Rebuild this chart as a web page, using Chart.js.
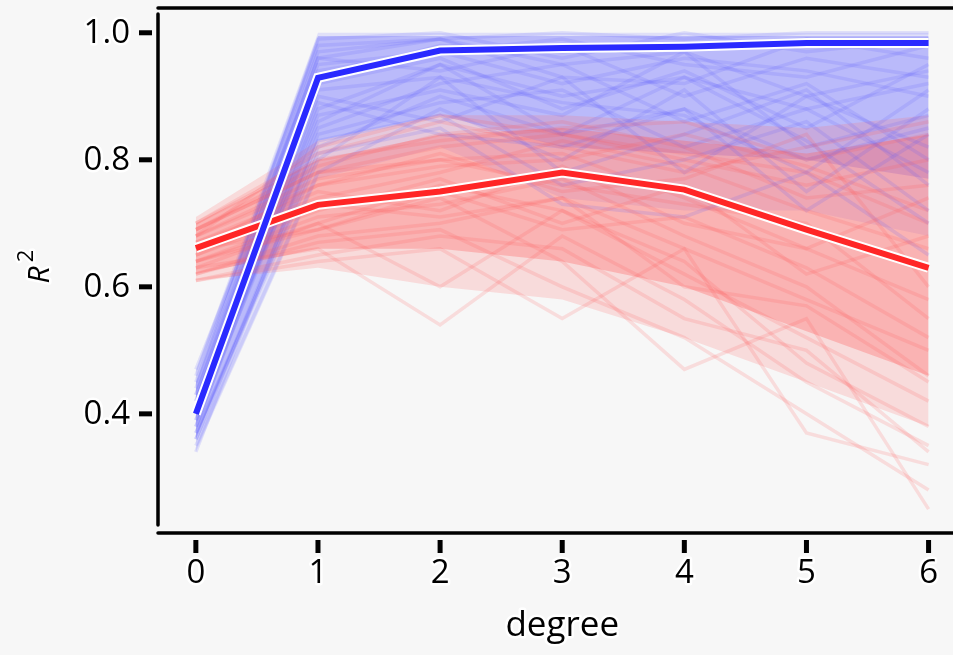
<!DOCTYPE html>
<html>
<head>
<meta charset="utf-8">
<script src="https://cdn.jsdelivr.net/npm/chart.js@4.4.1/dist/chart.umd.min.js"></script>
<style>
    html, body { margin: 0; padding: 0; background: #f7f7f7; }
    #wrap { width: 953px; height: 655px; position: relative; }
</style>
</head>
<body>
<div id="wrap"><canvas id="r2Chart"></canvas></div>
<script>
// polynomial degree on x axis
var degrees = [0, 1, 2, 3, 4, 5, 6];

var xTickValues = [0, 1, 2, 3, 4, 5, 6];
var xTickLabels = ['0', '1', '2', '3', '4', '5', '6'];
var yTickValues = [0.4, 0.6, 0.8, 1.0];
var yTickLabels = ['0.4', '0.6', '0.8', '1.0'];

// mean R^2 curves
var trainMean = [0.40, 0.929, 0.972, 0.976, 0.978, 0.984, 0.984];
var testMean = [0.661, 0.729, 0.750, 0.780, 0.753, 0.690, 0.630];

// spread of the faint runs: outer envelope and dense core
var trainOuterLow = [0.34, 0.77, 0.82, 0.74, 0.72, 0.72, 0.68];
var trainOuterHigh = [0.47, 1.0, 1.0, 1.0, 1.0, 1.0, 1.0];
var trainCoreLow = [0.36, 0.83, 0.87, 0.82, 0.81, 0.80, 0.77];
var trainCoreHigh = [0.45, 0.995, 0.995, 0.995, 0.995, 0.995, 0.995];
var testOuterLow = [0.61, 0.63, 0.60, 0.58, 0.52, 0.45, 0.38];
var testOuterHigh = [0.71, 0.83, 0.87, 0.87, 0.86, 0.85, 0.87];
var testCoreLow = [0.62, 0.66, 0.66, 0.64, 0.60, 0.53, 0.46];
var testCoreHigh = [0.70, 0.80, 0.84, 0.85, 0.83, 0.81, 0.84];

// individual faint runs (train)
var trainRuns = [
    [0.40, 0.93, 0.98, 0.97, 0.98, 0.99, 0.99],
    [0.38, 0.88, 0.95, 0.90, 0.93, 0.88, 0.92],
    [0.43, 0.97, 0.99, 1.00, 0.99, 1.00, 1.00],
    [0.36, 0.82, 0.90, 0.84, 0.88, 0.80, 0.85],
    [0.45, 0.99, 1.00, 0.96, 1.00, 0.97, 0.99],
    [0.41, 0.85, 0.92, 0.95, 0.86, 0.92, 0.80],
    [0.35, 0.78, 0.88, 0.80, 0.91, 0.75, 0.88],
    [0.47, 0.95, 0.97, 0.92, 0.96, 0.94, 0.90],
    [0.39, 0.90, 0.86, 0.93, 0.78, 0.90, 0.82],
    [0.42, 0.92, 0.96, 0.88, 0.94, 0.85, 0.95],
    [0.37, 0.80, 0.93, 0.78, 0.84, 0.91, 0.76],
    [0.44, 0.96, 0.94, 0.98, 0.90, 0.96, 0.93],
    [0.40, 0.87, 0.91, 0.87, 0.97, 0.82, 0.87],
    [0.34, 0.84, 0.89, 0.91, 0.82, 0.88, 0.78],
    [0.46, 0.98, 0.99, 0.93, 0.92, 0.99, 0.96],
    [0.38, 0.89, 0.84, 0.82, 0.88, 0.72, 0.84],
    [0.43, 0.94, 0.97, 0.99, 0.95, 0.93, 0.98],
    [0.36, 0.83, 0.87, 0.76, 0.80, 0.86, 0.72],
    [0.41, 0.91, 0.93, 0.89, 0.87, 0.78, 0.91],
    [0.39, 0.86, 0.95, 0.84, 0.93, 0.83, 0.70],
    [0.37, 0.81, 0.85, 0.73, 0.71, 0.78, 0.65],
    [0.42, 0.96, 0.99, 0.95, 0.97, 0.90, 0.94]
];

// individual faint runs (test)
var testRuns = [
    [0.66, 0.73, 0.75, 0.78, 0.75, 0.69, 0.63],
    [0.62, 0.68, 0.70, 0.74, 0.66, 0.58, 0.50],
    [0.69, 0.78, 0.82, 0.84, 0.80, 0.76, 0.80],
    [0.64, 0.70, 0.60, 0.72, 0.62, 0.52, 0.42],
    [0.68, 0.76, 0.79, 0.80, 0.84, 0.79, 0.72],
    [0.63, 0.66, 0.54, 0.68, 0.58, 0.45, 0.35],
    [0.70, 0.81, 0.86, 0.82, 0.78, 0.82, 0.86],
    [0.61, 0.64, 0.66, 0.55, 0.66, 0.37, 0.32],
    [0.67, 0.75, 0.72, 0.79, 0.70, 0.66, 0.58],
    [0.65, 0.72, 0.77, 0.70, 0.76, 0.62, 0.68],
    [0.66, 0.69, 0.74, 0.64, 0.47, 0.55, 0.25],
    [0.69, 0.79, 0.84, 0.86, 0.82, 0.74, 0.76],
    [0.62, 0.67, 0.69, 0.60, 0.52, 0.40, 0.28],
    [0.68, 0.77, 0.80, 0.76, 0.73, 0.70, 0.55],
    [0.64, 0.71, 0.73, 0.77, 0.68, 0.60, 0.46],
    [0.70, 0.80, 0.83, 0.85, 0.86, 0.80, 0.84],
    [0.63, 0.70, 0.76, 0.72, 0.64, 0.48, 0.38],
    [0.67, 0.74, 0.78, 0.83, 0.79, 0.72, 0.66],
    [0.65, 0.73, 0.71, 0.74, 0.60, 0.57, 0.45],
    [0.66, 0.76, 0.81, 0.75, 0.77, 0.84, 0.60],
    [0.61, 0.65, 0.68, 0.66, 0.55, 0.50, 0.34],
    [0.69, 0.78, 0.80, 0.81, 0.74, 0.66, 0.74],
    [0.64, 0.69, 0.75, 0.69, 0.71, 0.63, 0.52],
    [0.68, 0.82, 0.87, 0.84, 0.81, 0.78, 0.70]
];

var FONT = '"Open Sans", "DejaVu Sans", sans-serif';

function toPoints(values) {
    return values.map(function (v, i) {
        return { x: degrees[i], y: v };
    });
}

function lineSet(values, color, width, order, extra) {
    var ds = {
        data: toPoints(values),
        borderColor: color,
        borderWidth: width,
        pointRadius: 0,
        tension: 0,
        fill: false,
        order: order
    };
    for (var k in extra || {}) ds[k] = extra[k];
    return ds;
}

var datasets = [];

function addBand(low, high, color, order) {
    datasets.push(lineSet(low, 'rgba(0,0,0,0)', 0, order));
    datasets.push(lineSet(high, 'rgba(0,0,0,0)', 0, order, {
        fill: { target: datasets.length - 1 }, backgroundColor: color
    }));
}

// bands (drawn at the back)
addBand(trainOuterLow, trainOuterHigh, 'rgba(120,120,255,0.18)', 14);
addBand(trainCoreLow, trainCoreHigh, 'rgba(100,100,255,0.30)', 13);
addBand(testOuterLow, testOuterHigh, 'rgba(255,110,110,0.20)', 12);
addBand(testCoreLow, testCoreHigh, 'rgba(255,95,95,0.32)', 11);

trainRuns.forEach(function (run) {
    datasets.push(lineSet(run, 'rgba(90,90,255,0.15)', 3.5, 8));
});
testRuns.forEach(function (run) {
    datasets.push(lineSet(run, 'rgba(255,90,90,0.17)', 3.5, 7));
});

// mean lines with a white halo
datasets.push(lineSet(testMean, '#ffffff', 10, 4));
datasets.push(lineSet(testMean, '#ff2626', 6, 3));
datasets.push(lineSet(trainMean, '#ffffff', 10, 2));
datasets.push(lineSet(trainMean, '#2a2aff', 6, 1));

function haloText(ctx, text, x, y) {
    ctx.lineJoin = 'round';
    ctx.strokeStyle = '#ffffff';
    ctx.lineWidth = 5;
    ctx.strokeText(text, x, y);
    ctx.fillStyle = '#000000';
    ctx.fillText(text, x, y);
}

var axesPlugin = {
    id: 'xkcdAxes',
    beforeDraw: function (chart) {
        var ctx = chart.ctx;
        ctx.save();
        ctx.fillStyle = '#f7f7f7';
        ctx.fillRect(0, 0, chart.width, chart.height);
        ctx.restore();
    },
    afterDraw: function (chart) {
        var ctx = chart.ctx;
        var area = chart.chartArea;
        var xs = chart.scales.x;
        var ys = chart.scales.y;

        ctx.save();
        ctx.strokeStyle = '#000000';
        ctx.lineWidth = 3.5;
        ctx.lineCap = 'round';

        // spines
        ctx.beginPath();
        ctx.moveTo(area.left, 8);
        ctx.lineTo(chart.width, 8);
        ctx.moveTo(area.left, 14);
        ctx.lineTo(area.left, area.bottom);
        ctx.moveTo(area.left, area.bottom + 8);
        ctx.lineTo(chart.width, area.bottom + 8);
        ctx.stroke();

        // y ticks
        ctx.font = '500 33px ' + FONT;
        ctx.textAlign = 'right';
        ctx.textBaseline = 'middle';
        yTickValues.forEach(function (v, i) {
            var py = ys.getPixelForValue(v);
            ctx.fillStyle = '#000000';
            ctx.fillRect(area.left - 19, py - 2.5, 13, 5);
            haloText(ctx, yTickLabels[i], area.left - 28, py + 1);
        });

        // x ticks
        ctx.textAlign = 'center';
        ctx.textBaseline = 'top';
        xTickValues.forEach(function (v, i) {
            var px = xs.getPixelForValue(v);
            ctx.fillStyle = '#000000';
            ctx.fillRect(px - 2.5, area.bottom + 15, 5, 13);
            haloText(ctx, xTickLabels[i], px, area.bottom + 32);
        });

        // axis titles
        ctx.font = '500 35px ' + FONT;
        ctx.textAlign = 'center';
        ctx.textBaseline = 'middle';
        haloText(ctx, 'degree', xs.getPixelForValue(3), 626);

        ctx.translate(40, 268);
        ctx.rotate(-Math.PI / 2);
        ctx.font = 'italic 30px ' + FONT;
        ctx.textAlign = 'center';
        haloText(ctx, 'R', -7, 0);
        ctx.font = '22px ' + FONT;
        haloText(ctx, '2', 12, -13);
        ctx.restore();
    }
};

new Chart(document.getElementById('r2Chart'), {
    type: 'line',
    data: { datasets: datasets },
    options: {
        responsive: true,
        maintainAspectRatio: false,
        animation: false,
        devicePixelRatio: 1,
        layout: {
            padding: { left: 158, right: 0, top: 8, bottom: 130 }
        },
        scales: {
            x: {
                type: 'linear',
                min: -0.31,
                max: 6.2,
                display: false
            },
            y: {
                type: 'linear',
                min: 0.225,
                max: 1.039,
                display: false
            }
        },
        plugins: {
            legend: { display: false },
            tooltip: { enabled: false }
        }
    },
    plugins: [axesPlugin]
});
</script>
</body>
</html>
